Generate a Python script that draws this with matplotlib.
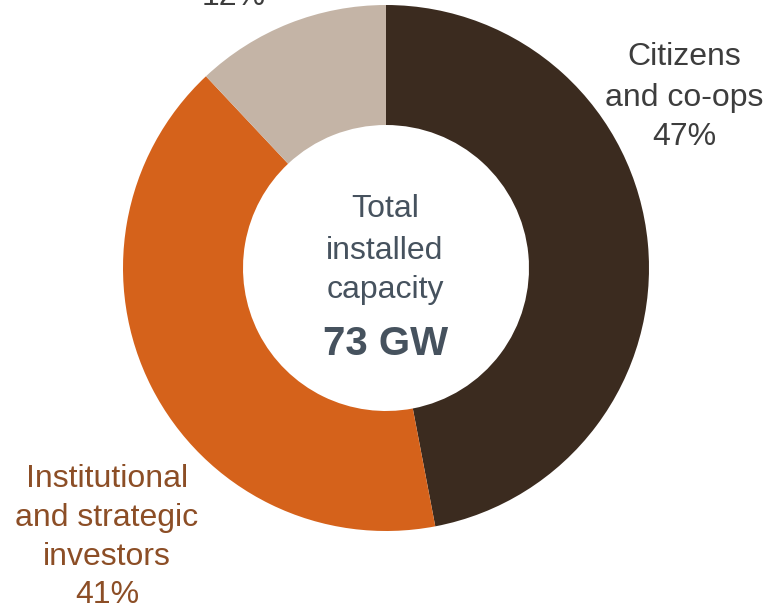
import matplotlib
matplotlib.use("Agg")
from matplotlib import pyplot as plt

# data
groups = ["Citizens and co-ops", "Institutional and strategic investors", "Other"]
shares = [47, 41, 12]
colors = ["#3b2b1f", "#d5621b", "#c4b4a6"]
total_gw = 73

W, H = 773, 616
plt.rcParams['font.family'] = ['Liberation Sans', 'DejaVu Sans']

fig = plt.figure(figsize=(W / 100, H / 100), dpi=100)
ax = fig.add_axes([0, 0, 1, 1])
ax.set_xlim(0, W)
ax.set_ylim(0, H)
ax.axis("off")

cx, cy = 386, H - 268
ax.pie(shares, colors=colors, startangle=90, counterclock=False,
       radius=263, center=(cx, cy), frame=True,
       wedgeprops=dict(width=120, linewidth=0))
ax.set_xlim(0, W)
ax.set_ylim(0, H)
ax.set_aspect("equal")
ax.axis("off")


def lines(x, baselines, texts, color, size, weight="normal"):
    for yb, t in zip(baselines, texts):
        ax.text(x, H - yb, t, ha="center", va="baseline", fontsize=size,
                color=color, fontweight=weight)


# labels round the ring
lines(684, [65, 106, 145], ["Citizens", "and co-ops", f"{shares[0]}%"], "#3d3d3d", 23)
lines(107, [487, 526, 565, 603], ["Institutional", "and strategic", "investors", f"{shares[1]}%"],
      "#8c4e26", 23)
lines(234, [5], [f"{shares[2]}%"], "#3d3d3d", 23)

# centre text
lines(385, [217, 259, 298], ["Total", "installed", "capacity"], "#46525e", 23)
lines(386, [355], [f"{total_gw} GW"], "#46525e", 29, weight="bold")

fig.savefig("out.png", dpi=100)
